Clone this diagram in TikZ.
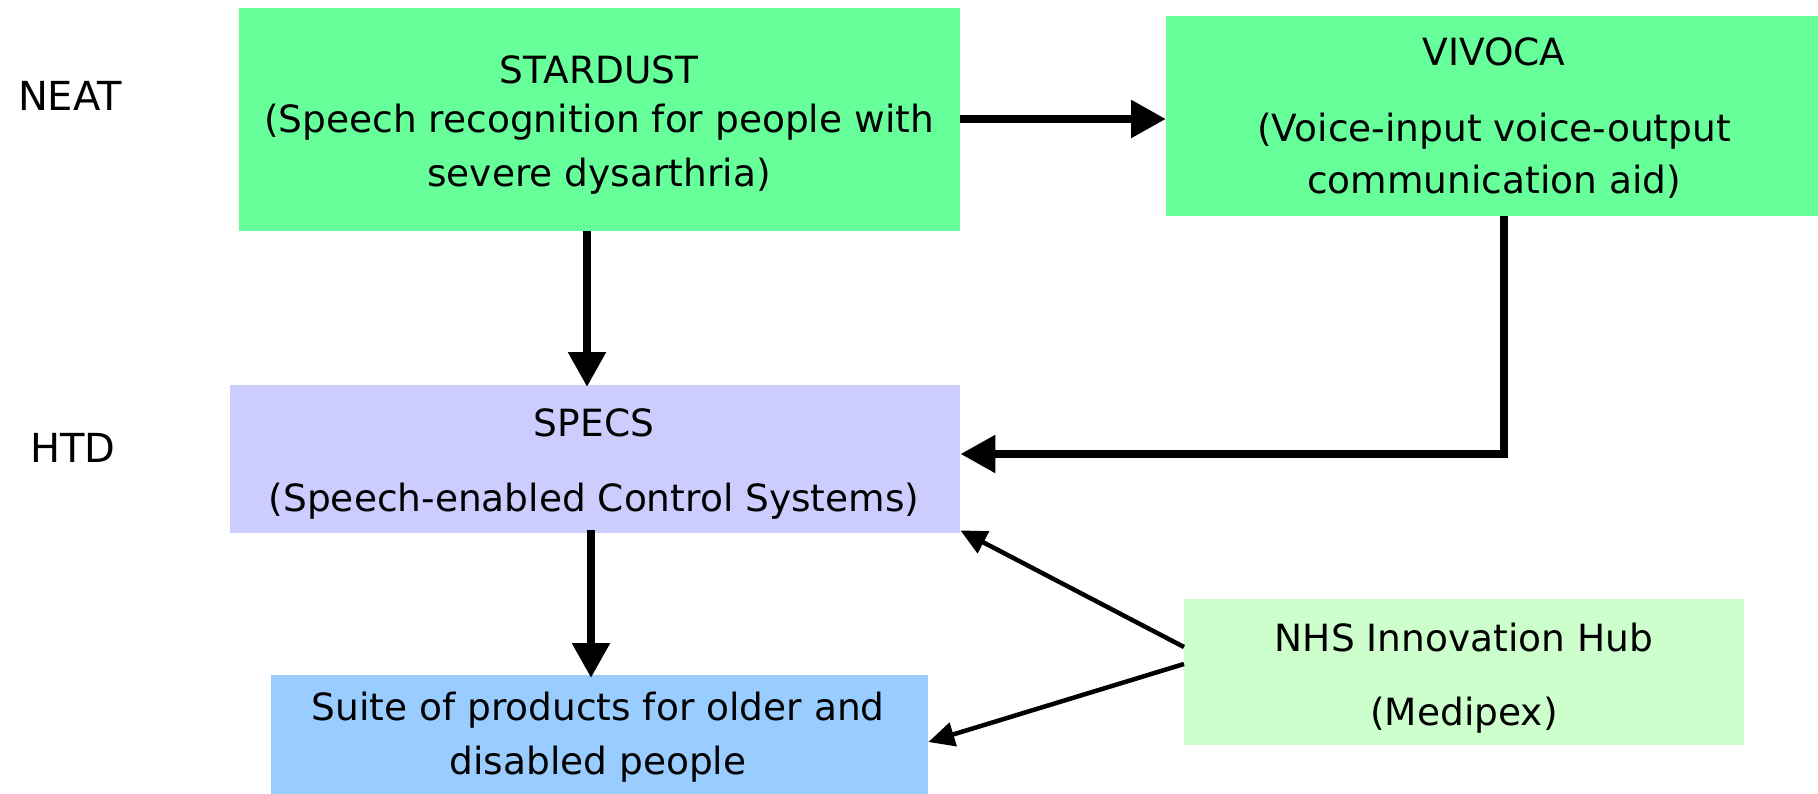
\documentclass[tikz,border=0pt]{standalone}
\usepackage{fontspec}
\setmainfont{DejaVu Sans}
\usetikzlibrary{arrows.meta,calc}
\definecolor{grn}{HTML}{66FF99}
\definecolor{lav}{HTML}{CCCCFF}
\definecolor{pale}{HTML}{CCFFCC}
\definecolor{sky}{HTML}{99CCFF}
\tikzset{
  box/.style={draw=none,inner sep=0pt,anchor=north west},
  txt/.style={inner sep=0pt,font=\fontsize{37.5}{44}\selectfont},
  thick arrow/.style={line width=8.5pt,-{Triangle[length=35pt,width=36pt]}},
  thin arrow/.style={line width=4.5pt,-{Triangle[length=26pt,width=24pt]}}
}
\begin{document}
\begin{tikzpicture}[x=1pt,y=-1pt]
\useasboundingbox (0,0) rectangle (1818,794);
% boxes
\node[box,fill=grn,minimum width=721pt,minimum height=223pt] (stardust) at (239,8) {};
\node[box,fill=grn,minimum width=652pt,minimum height=200pt] (vivoca) at (1166,16) {};
\node[box,fill=lav,minimum width=730pt,minimum height=148pt] (specs) at (230,385) {};
\node[box,fill=pale,minimum width=560pt,minimum height=146pt] (nhs) at (1184,599) {};
\node[box,fill=sky,minimum width=657pt,minimum height=120pt] (suite) at (271,675) {};
% texts
\node[txt,font=\fontsize{40}{44}\selectfont] (neat) at (70,96) {NEAT};
\node[txt,font=\fontsize{40}{44}\selectfont] (htd) at (73,448) {HTD};
\node[txt] (t1a) at (599,70) {STARDUST};
\node[txt] (t1b) at (599,122) {(Speech recognition for people with};
\node[txt] (t1c) at (599,176) {severe dysarthria)};
\node[txt] (t2a) at (1494,52) {VIVOCA};
\node[txt] (t2b) at (1494,131) {(Voice-input voice-output};
\node[txt] (t2c) at (1494,182) {communication aid)};
\node[txt] (t3a) at (594,423) {SPECS};
\node[txt] (t3b) at (594,501) {(Speech-enabled Control Systems)};
\node[txt] (t4a) at (1464,638) {NHS Innovation Hub};
\node[txt] (t4b) at (1464,715) {(Medipex)};
\node[txt] (t5a) at (598,710) {Suite of products for older and};
\node[txt] (t5b) at (598,764) {disabled people};
% connector helpers
\coordinate (xa) at (587,0);
\coordinate (xb) at (1504,454);
\coordinate (xc) at (591,0);
\coordinate (ya) at (0,647);
\coordinate (yb) at (0,664);
\coordinate (yc) at (0,742);
\coordinate (yd) at (0,119);
% connectors
\draw[thick arrow] (stardust.east |- yd) -- (vivoca.west |- yd);
\draw[thick arrow] (stardust.south -| xa) -- ([yshift=-2pt]specs.north -| xa);
\draw[thick arrow] (vivoca.south -| xb) -- (xb) -- (specs.east |- xb);
\draw[thick arrow] ([yshift=3pt]specs.south -| xc) -- ([yshift=-3pt]suite.north -| xc);
\draw[thin arrow] (nhs.west |- ya) -- ([yshift=3pt]specs.south east);
\draw[thin arrow] (nhs.west |- yb) -- (suite.east |- yc);
\end{tikzpicture}
\end{document}
